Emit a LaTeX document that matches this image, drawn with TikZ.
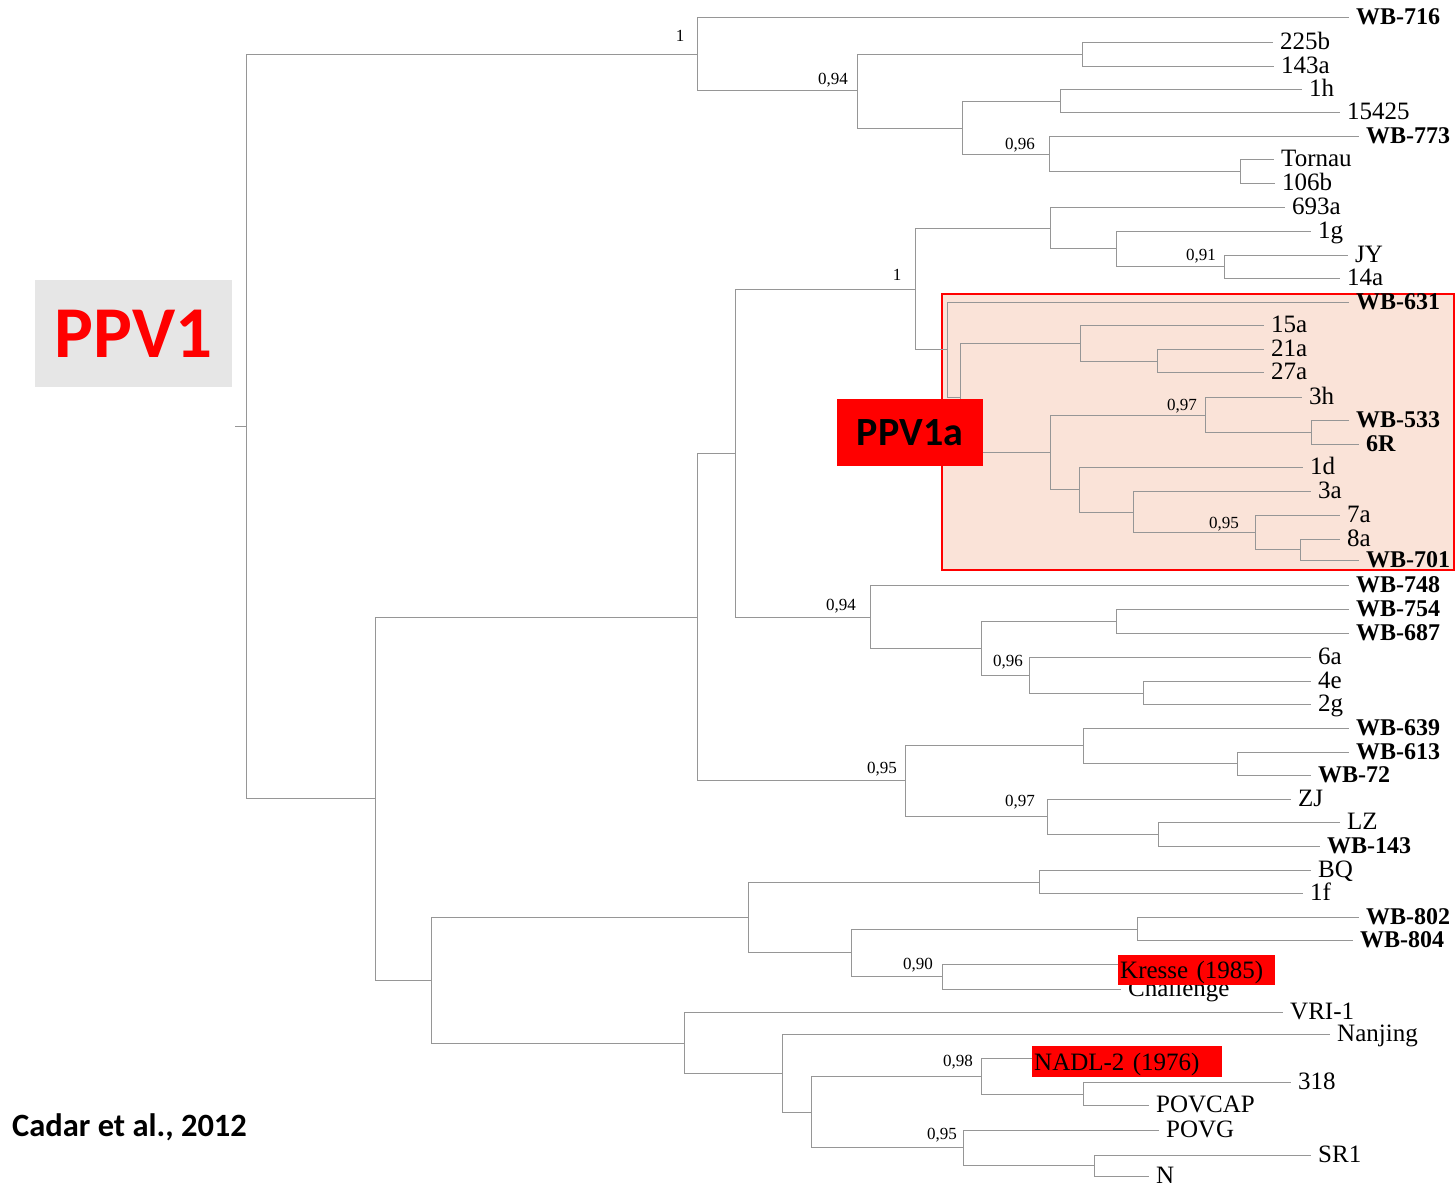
\documentclass[tikz,border=0pt]{standalone}
\usepackage{fontspec}
\setmainfont{Liberation Serif}
\newfontfamily\calib{Carlito}
\definecolor{treegray}{RGB}{150,150,150}
\definecolor{peach}{RGB}{250,227,216}
\definecolor{pred}{RGB}{255,0,0}
\definecolor{boxgray}{RGB}{230,230,230}
\newcommand\tedge[2]{\draw[br] (#1) |- (#2);}
\begin{document}
\begin{tikzpicture}[x=1pt,y=-1pt,
  br/.style={draw=treegray, line width=0.9pt},
  leaf/.style={anchor=west, inner xsep=7pt, inner ysep=0pt, text height=14pt, text depth=0pt, font=\fontsize{25}{25}\selectfont},
  bleaf/.style={leaf, font=\fontsize{24}{24}\selectfont\bfseries},
  hl/.style={anchor=west, fill=pred, inner xsep=2pt, inner ysep=6.5pt, text height=17pt, text depth=0pt, align=left, font=\fontsize{25}{25}\selectfont},
  sup/.style={anchor=center, inner sep=0pt, text height=12pt, text depth=0pt, font=\fontsize{17}{17}\selectfont}]
\path[use as bounding box] (0,0) rectangle (1455,1194);
% clade box
\draw[draw=pred, fill=peach, line width=2pt] (942,294) rectangle (1454,570);
% PPV1 label
\node[fill=boxgray, minimum width=197pt, minimum height=107pt, inner sep=0pt, text=pred, font=\calib\bfseries\fontsize{73}{73}\selectfont] (ppv1) at (133.5,333.5) {PPV1};
\node[anchor=base west, inner sep=0pt, font=\calib\bfseries\fontsize{32.5}{32.5}\selectfont] (cadar) at (12,1136) {Cadar et al., 2012};
% internal nodes
\coordinate (rs) at (235,426);
\coordinate (rt) at (246,426);
\coordinate (A) at (697,54);
\coordinate (B) at (857,90);
\coordinate (C) at (1082,54);
\coordinate (D) at (962,128);
\coordinate (E) at (1060,101);
\coordinate (F) at (1049,154);
\coordinate (G) at (1240,171);
\coordinate (H) at (375,798);
\coordinate (I) at (697,617);
\coordinate (J) at (735,453);
\coordinate (K) at (915,289);
\coordinate (L) at (1050,228);
\coordinate (M) at (1116,248);
\coordinate (N) at (1224,266);
\coordinate (O) at (947,349);
\coordinate (Q) at (960,397);
\coordinate (P1) at (1080,343);
\coordinate (P2) at (1157,361);
\coordinate (R) at (1050,452);
\coordinate (S) at (1205,415);
\coordinate (T) at (1311,432);
\coordinate (U) at (1079,489);
\coordinate (V) at (1133,512);
\coordinate (W) at (1255,532);
\coordinate (X) at (1300,549);
\coordinate (Y) at (870,617);
\coordinate (Z) at (981,648);
\coordinate (AA) at (1116,621);
\coordinate (AB) at (1029,675);
\coordinate (AC) at (1143,693);
\coordinate (AD) at (905,780);
\coordinate (AE) at (1083,745);
\coordinate (AF) at (1237,763);
\coordinate (AG) at (1047,816);
\coordinate (AH) at (1158,834);
\coordinate (AI) at (431,980);
\coordinate (AJ) at (748,917);
\coordinate (AK) at (1039,882);
\coordinate (AL) at (851,952);
\coordinate (AM) at (1137,929);
\coordinate (AN) at (942,976);
\coordinate (AO) at (684,1043);
\coordinate (AP) at (782,1073);
\coordinate (AQ) at (811,1112);
\coordinate (AR) at (981,1076);
\coordinate (AS) at (1083,1094);
\coordinate (AT) at (963,1147);
\coordinate (AU) at (1094,1165);
% leaves
\node[bleaf] (wb716) at (1349,17) {WB-716};
\node[leaf] (l225b) at (1273,42) {225b};
\node[leaf] (l143a) at (1274,66) {143a};
\node[leaf] (l1h) at (1302,89) {1h};
\node[leaf] (l15425) at (1340,112) {15425};
\node[bleaf] (wb773) at (1359,136) {WB-773};
\node[leaf] (tornau) at (1274,159) {Tornau};
\node[leaf] (l106b) at (1275,183) {106b};
\node[leaf] (l693a) at (1285,207) {693a};
\node[leaf] (l1g) at (1311,231) {1g};
\node[leaf] (jy) at (1348,255) {JY};
\node[leaf] (l14a) at (1340,278) {14a};
\node[bleaf] (wb631) at (1349,302) {WB-631};
\node[leaf] (l15a) at (1264,325) {15a};
\node[leaf] (l21a) at (1264,349) {21a};
\node[leaf] (l27a) at (1264,372) {27a};
\node[leaf] (l3h) at (1302,397) {3h};
\node[bleaf] (wb533) at (1349,420) {WB-533};
\node[bleaf] (l6r) at (1359,444) {6R};
\node[leaf] (l1d) at (1303,467) {1d};
\node[leaf] (l3a) at (1311,491) {3a};
\node[leaf] (l7a) at (1340,515) {7a};
\node[leaf] (l8a) at (1340,539) {8a};
\node[bleaf] (wb701) at (1359,560) {WB-701};
\node[bleaf] (wb748) at (1349,585) {WB-748};
\node[bleaf] (wb754) at (1349,609) {WB-754};
\node[bleaf] (wb687) at (1349,633) {WB-687};
\node[leaf] (l6a) at (1311,657) {6a};
\node[leaf] (l4e) at (1311,681) {4e};
\node[leaf] (l2g) at (1311,704) {2g};
\node[bleaf] (wb639) at (1349,728) {WB-639};
\node[bleaf] (wb613) at (1349,752) {WB-613};
\node[bleaf] (wb72) at (1311,775) {WB-72};
\node[leaf] (zj) at (1291,799) {ZJ};
\node[leaf] (lz) at (1340,822) {LZ};
\node[bleaf] (wb143) at (1320,846) {WB-143};
\node[leaf] (bq) at (1311,870) {BQ};
\node[leaf] (l1f) at (1303,893) {1f};
\node[bleaf] (wb802) at (1359,917) {WB-802};
\node[bleaf] (wb804) at (1353,940) {WB-804};
\node[leaf] (challenge) at (1121,989) {Challenge};
\node[hl, text width=153pt] (kresse) at (1118,970) {Kresse (1985)};
\node[leaf] (vri) at (1283,1012) {VRI-1};
\node[leaf] (nanjing) at (1330,1034) {Nanjing};
\node[hl, text width=186pt, inner ysep=7pt] (nadl) at (1032,1061.5) {NADL-2 (1976)};
\node[leaf] (l318) at (1291,1082) {318};
\node[leaf] (povcap) at (1149,1105) {POVCAP};
\node[leaf] (povg) at (1159,1130) {POVG};
\node[leaf] (sr1) at (1311,1155) {SR1};
\node[leaf] (ln) at (1149,1176) {N};
% branches
\draw[br] (rs) -- (rt);
\tedge{rt}{A} \tedge{rt}{H}
\tedge{A}{wb716.west} \tedge{A}{B}
\tedge{B}{C} \tedge{B}{D}
\tedge{C}{l225b.west} \tedge{C}{l143a.west}
\tedge{D}{E} \tedge{D}{F}
\tedge{E}{l1h.west} \tedge{E}{l15425.west}
\tedge{F}{wb773.west} \tedge{F}{G}
\tedge{G}{tornau.west} \tedge{G}{l106b.west}
\tedge{H}{I} \tedge{H}{AI}
\tedge{I}{J} \tedge{I}{AD}
\tedge{J}{K} \tedge{J}{Y}
\tedge{K}{L} \tedge{K}{O}
\tedge{L}{l693a.west} \tedge{L}{M}
\tedge{M}{l1g.west} \tedge{M}{N}
\tedge{N}{jy.west} \tedge{N}{l14a.west}
\tedge{O}{wb631.west} \tedge{O}{Q}
\tedge{Q}{P1} \tedge{Q}{R}
\tedge{P1}{l15a.west} \tedge{P1}{P2}
\tedge{P2}{l21a.west} \tedge{P2}{l27a.west}
\tedge{R}{S} \tedge{R}{U}
\tedge{S}{l3h.west} \tedge{S}{T}
\tedge{T}{wb533.west} \tedge{T}{l6r.west}
\tedge{U}{l1d.west} \tedge{U}{V}
\tedge{V}{l3a.west} \tedge{V}{W}
\tedge{W}{l7a.west} \tedge{W}{X}
\tedge{X}{l8a.west} \tedge{X}{wb701.west}
\tedge{Y}{wb748.west} \tedge{Y}{Z}
\tedge{Z}{AA} \tedge{Z}{AB}
\tedge{AA}{wb754.west} \tedge{AA}{wb687.west}
\tedge{AB}{l6a.west} \tedge{AB}{AC}
\tedge{AC}{l4e.west} \tedge{AC}{l2g.west}
\tedge{AD}{AE} \tedge{AD}{AG}
\tedge{AE}{wb639.west} \tedge{AE}{AF}
\tedge{AF}{wb613.west} \tedge{AF}{wb72.west}
\tedge{AG}{zj.west} \tedge{AG}{AH}
\tedge{AH}{lz.west} \tedge{AH}{wb143.west}
\tedge{AI}{AJ} \tedge{AI}{AO}
\tedge{AJ}{AK} \tedge{AJ}{AL}
\tedge{AK}{bq.west} \tedge{AK}{l1f.west}
\tedge{AL}{AM} \tedge{AL}{AN}
\tedge{AM}{wb802.west} \tedge{AM}{wb804.west}
\draw[br] (AN) |- ([yshift=6pt]kresse.west);
\tedge{AN}{challenge.west}
\tedge{AO}{vri.west} \tedge{AO}{AP}
\tedge{AP}{nanjing.west} \tedge{AP}{AQ}
\tedge{AQ}{AR} \tedge{AQ}{AT}
\draw[br] (AR) |- ([yshift=3.5pt]nadl.west);
\tedge{AR}{AS}
\tedge{AS}{l318.west} \tedge{AS}{povcap.west}
\tedge{AT}{povg.west} \tedge{AT}{AU}
\tedge{AU}{sr1.west} \tedge{AU}{ln.west}
% support values
\node[sup] (s1) at (680,35) {1};
\node[sup] (s2) at (833,78) {0,94};
\node[sup] (s3) at (1020,143) {0,96};
\node[sup] (s4) at (897,274) {1};
\node[sup] (s5) at (1201,254) {0,91};
\node[sup] (s6) at (1182,404) {0,97};
\node[sup] (s7) at (1224,522) {0,95};
\node[sup] (s8) at (841,604) {0,94};
\node[sup] (s9) at (1008,660) {0,96};
\node[sup] (s10) at (882,767) {0,95};
\node[sup] (s11) at (1020,800) {0,97};
\node[sup] (s12) at (918,963) {0,90};
\node[sup] (s13) at (958,1060) {0,98};
\node[sup] (s14) at (942,1133) {0,95};
% PPV1a label
\node[fill=pred, minimum width=146pt, minimum height=67pt, inner sep=0pt, font=\calib\bfseries\fontsize{40}{40}\selectfont] (ppv1a) at (910,432.5) {PPV1a};
\end{tikzpicture}
\end{document}
